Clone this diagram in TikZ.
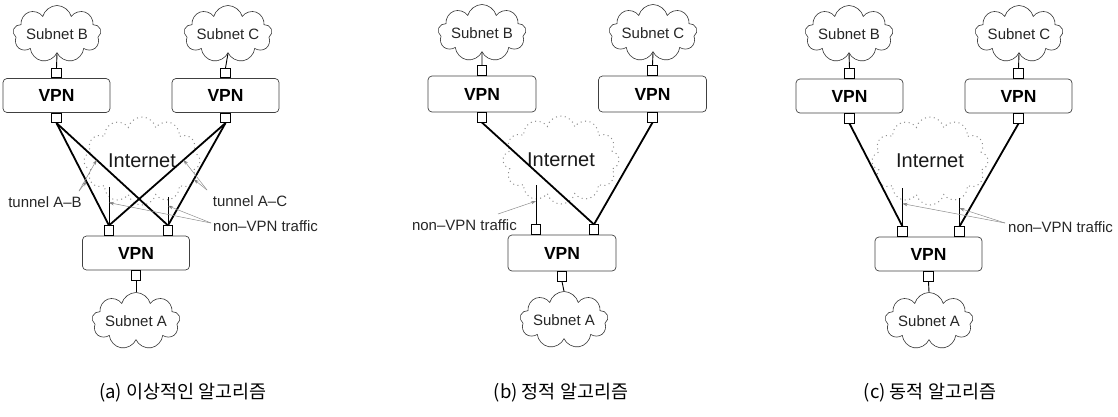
\documentclass[tikz,border=0pt]{standalone}
\usepackage{fontspec}
\setmainfont{Liberation Sans}
\newfontfamily\cjk{Noto Sans CJK KR}
\usetikzlibrary{shapes.symbols,arrows.meta}
\tikzset{
  vpnbox/.style={draw=black!75, rounded corners=4pt, minimum width=107pt, minimum height=34pt, inner sep=0pt, line width=0.7pt, font=\fontsize{17.5}{19}\selectfont\bfseries},
  port/.style={draw=black, fill=white, minimum size=9.5pt, inner sep=0pt, line width=0.7pt},
  subnet/.style={cloud, cloud puffs=9, cloud ignores aspect, draw=black!80, line width=0.6pt, minimum width=88pt, minimum height=57pt, inner sep=0pt, font=\fontsize{15}{17}\selectfont, text=black!85},
  inet/.style={cloud, cloud puffs=12, cloud ignores aspect, draw=black!45, dash pattern=on 1pt off 3.5pt, line width=1pt, minimum width=116pt, minimum height=88pt, inner sep=0pt, font=\fontsize{20}{22}\selectfont, text=black!90},
  tunnel/.style={line width=1.8pt, black},
  plain/.style={line width=0.9pt, black},
  leader/.style={draw=black!45, line width=0.5pt, -{Stealth[length=5pt,width=3.5pt,fill=black!80]}},
  lbl/.style={font=\fontsize{15}{17}\selectfont, text=black!85, inner sep=0pt},
  captxt/.style={font=\cjk\fontsize{18.5}{20}\selectfont, inner sep=0pt}
}
\begin{document}
\begin{tikzpicture}[x=1pt,y=-1pt]
\useasboundingbox (0,0) rectangle (1118,416);

% ================= panel (a) =================
\node[inet] (aI) at (142,161) {Internet};
\node[subnet] (aSB) at (57,34) {Subnet B};
\node[subnet] (aSC) at (228,34) {Subnet C};
\node[subnet] (aSA) at (136,321) {Subnet A};
\node[vpnbox] (aB) at (56.5,95.5) {VPN};
\node[vpnbox] (aC) at (225.5,95.5) {VPN};
\node[vpnbox] (aA) at (136,253) {VPN};
\node[port, anchor=south] (aBt) at (aB.north) {};
\node[port, anchor=north] (aBb) at (aB.south) {};
\node[port, anchor=south] (aCt) at (aC.north) {};
\node[port, anchor=north] (aCb) at (aC.south) {};
\node[port, anchor=south] (aAl) at ([xshift=-27pt]aA.north) {};
\node[port, anchor=south] (aAr) at ([xshift=32pt]aA.north) {};
\node[port, anchor=north] (aAb) at (aA.south) {};
\draw[plain] (aSB.south) -- (aBt.north);
\draw[plain] (aSC.south) -- (aCt.north);
\draw[plain] (aAb.south) -- (aSA.north);
\draw[tunnel] (aBb.south) -- (aAl.north);
\draw[tunnel] (aBb.south) -- (aAr.north);
\draw[tunnel] (aCb.south) -- (aAl.north);
\draw[tunnel] (aCb.south) -- (aAr.north);
\coordinate (aNl) at ([yshift=38pt]aAl.north);
\coordinate (aNr) at ([yshift=28pt]aAr.north);
\draw[plain] (aAl.north) -- (aNl);
\draw[plain] (aAr.north) -- (aNr);
\node[lbl] (aLab) at (45,202) {tunnel A--B};
\node[lbl] (aLac) at (250,201) {tunnel A--C};
\node[lbl, anchor=west] (aLnv) at (213,226) {non--VPN traffic};
\path (aBb.south) -- (aAl.north) coordinate[pos=0.57] (aT1);
\path (aBb.south) -- (aAr.north) coordinate[pos=0.36] (aT2);
\path (aCb.south) -- (aAr.north) coordinate[pos=0.55] (aT3);
\path (aCb.south) -- (aAl.north) coordinate[pos=0.36] (aT4);
\path (aAl.north) -- (aNl) coordinate[pos=0.6] (aN1);
\path (aAr.north) -- (aNr) coordinate[pos=0.7] (aN2);
\coordinate (aOab) at (79,191);
\coordinate (aOac) at (207,190);
\coordinate (aOnv) at (211,223);
\draw[leader] (aOab) -- (aT1);
\draw[leader] (aOab) -- (aT2);
\draw[leader] (aOac) -- (aT3);
\draw[leader] (aOac) -- (aT4);
\draw[leader] (aOnv) -- (aN1);
\draw[leader] (aOnv) -- (aN2);

% ================= panel (b) =================
\node[inet] (bI) at (561,160) {Internet};
\node[subnet] (bSB) at (482,33) {Subnet B};
\node[subnet] (bSC) at (653,33) {Subnet C};
\node[subnet] (bSA) at (564,320) {Subnet A};
\node[vpnbox, minimum width=108pt, minimum height=36pt] (bB) at (482,94) {VPN};
\node[vpnbox, minimum width=108pt, minimum height=36pt] (bC) at (652.5,94) {VPN};
\node[vpnbox, minimum width=108pt, minimum height=36pt] (bA) at (562,253) {VPN};
\node[port, anchor=south] (bBt) at (bB.north) {};
\node[port, anchor=north] (bBb) at (bB.south) {};
\node[port, anchor=south] (bCt) at (bC.north) {};
\node[port, anchor=north] (bCb) at (bC.south) {};
\node[port, anchor=south] (bAl) at ([xshift=-26pt]bA.north) {};
\node[port, anchor=south] (bAr) at ([xshift=32pt]bA.north) {};
\node[port, anchor=north] (bAb) at (bA.south) {};
\draw[plain] (bSB.south) -- (bBt.north);
\draw[plain] (bSC.south) -- (bCt.north);
\draw[plain] (bAb.south) -- (bSA.north);
\draw[tunnel] (bBb.south) -- (bAr.north);
\draw[tunnel] (bCb.south) -- (bAr.north);
\coordinate (bNl) at ([yshift=39pt]bAl.north);
\draw[plain] (bAl.north) -- (bNl);
\node[lbl, anchor=east] (bLnv) at (517,225) {non--VPN traffic};
\path (bAl.north) -- (bNl) coordinate[pos=0.6] (bN1);
\coordinate (bOnv) at (498,214);
\draw[leader] (bOnv) -- (bN1);

% ================= panel (c) =================
\node[inet] (cI) at (930,161) {Internet};
\node[subnet] (cSB) at (849,34) {Subnet B};
\node[subnet] (cSC) at (1019,34) {Subnet C};
\node[subnet] (cSA) at (929,321) {Subnet A};
\node[vpnbox] (cB) at (849.5,96) {VPN};
\node[vpnbox] (cC) at (1018.5,96) {VPN};
\node[vpnbox] (cA) at (928.5,254) {VPN};
\node[port, anchor=south] (cBt) at (cB.north) {};
\node[port, anchor=north] (cBb) at (cB.south) {};
\node[port, anchor=south] (cCt) at (cC.north) {};
\node[port, anchor=north] (cCb) at (cC.south) {};
\node[port, anchor=south] (cAl) at ([xshift=-26pt]cA.north) {};
\node[port, anchor=south] (cAr) at ([xshift=31pt]cA.north) {};
\node[port, anchor=north] (cAb) at (cA.south) {};
\draw[plain] (cSB.south) -- (cBt.north);
\draw[plain] (cSC.south) -- (cCt.north);
\draw[plain] (cAb.south) -- (cSA.north);
\draw[tunnel] (cBb.south) -- (cAl.north);
\draw[tunnel] (cCb.south) -- (cAr.north);
\coordinate (cNl) at ([yshift=38pt]cAl.north);
\coordinate (cNr) at ([yshift=28pt]cAr.north);
\draw[plain] (cAl.north) -- (cNl);
\draw[plain] (cAr.north) -- (cNr);
\node[lbl, anchor=west] (cLnv) at (1008,227) {non--VPN traffic};
\path (cAl.north) -- (cNl) coordinate[pos=0.6] (cN1);
\path (cAr.north) -- (cNr) coordinate[pos=0.65] (cN2);
\coordinate (cOnv) at (1005,223);
\draw[leader] (cOnv) -- (cN1);
\draw[leader] (cOnv) -- (cN2);

% ================= captions =================
\node[captxt] (capA) at (183,393) {(a) 이상적인 알고리즘};
\node[captxt] (capB) at (561,393) {(b) 정적 알고리즘};
\node[captxt] (capC) at (930,393) {(c) 동적 알고리즘};
\end{tikzpicture}
\end{document}
